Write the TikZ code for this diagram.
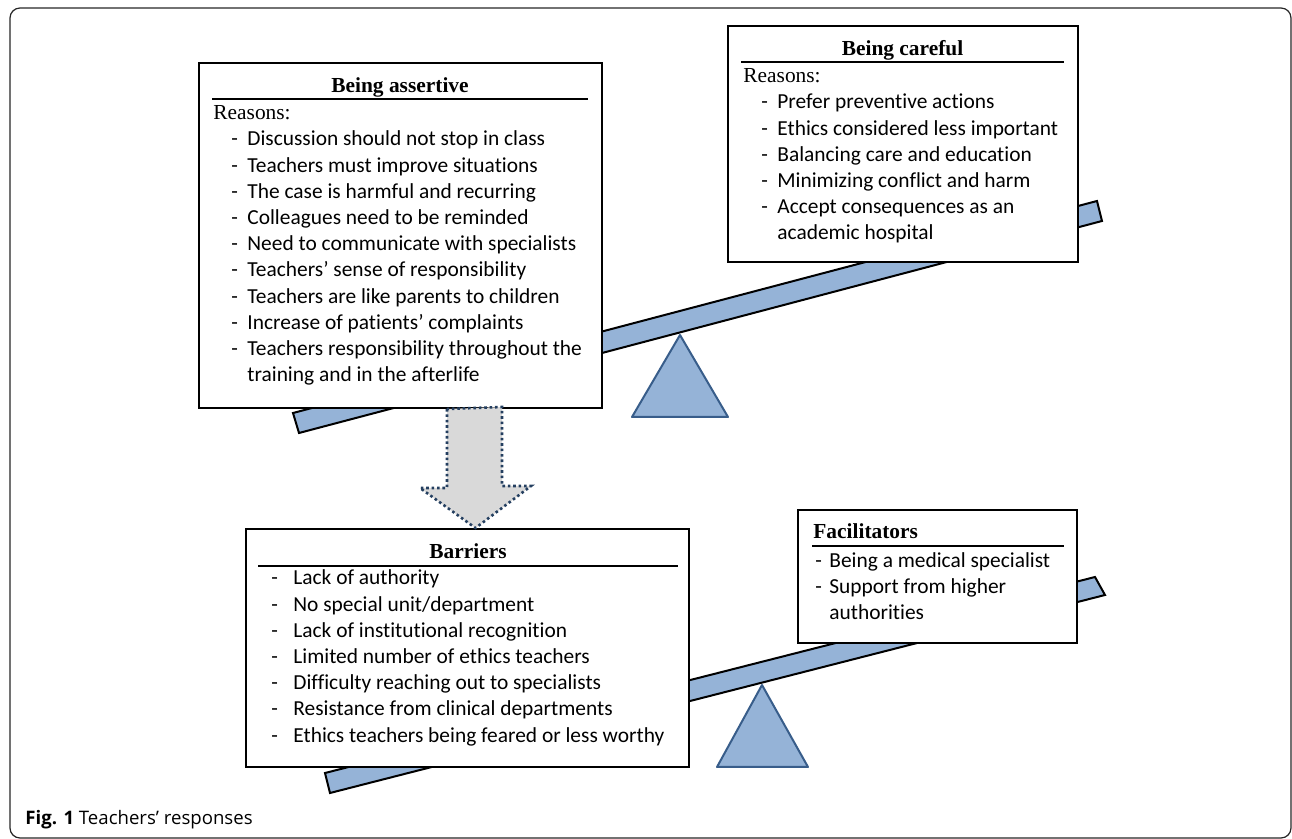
\documentclass[tikz,border=0pt]{standalone}
\usepackage{fontspec}
\setmainfont{Liberation Serif}
\newfontfamily\bodyfont[Ligatures=NoCommon]{Carlito}
\newfontfamily\capfont{Open Sans}
\usepackage{tikz}

\definecolor{beamblue}{HTML}{95B3D7}
\definecolor{edgeblue}{HTML}{385D8A}
\definecolor{arrowgray}{HTML}{D9D9D9}
\definecolor{dotblue}{HTML}{243F60}

\begin{document}
\begin{tikzpicture}[x=0.5pt, y=-0.5pt, % 坐标按像素写
		box/.style={draw, line width=1pt, fill=white, inner sep=0pt},
		title/.style={anchor=base, inner sep=0pt,
			font=\fontsize{10.7}{13.1}\selectfont\bfseries},
		reason/.style={anchor=base west, inner sep=0pt,
			font=\fontsize{10.7}{13.1}\selectfont},
		item/.style={anchor=base west, inner sep=0pt,
			font=\bodyfont\fontsize{10.7}{13.1}\selectfont},
		beam/.style={draw, line width=1pt, fill=beamblue},
		fulcrum/.style={draw=edgeblue, line width=1pt, fill=beamblue,
			line join=round}]
		\newcommand\lh{26.2}
		\useasboundingbox (0, 0) rectangle (1292, 839);
		% 外框
		\draw[rounded corners=5pt, draw=black!85, line width=0.6pt]
			(10, 8) rectangle (1291, 838);
		% 上面的跷跷板
		\draw[beam] (293, 413) -- (1097, 201) -- (1102, 221) -- (299, 433) -- cycle;
		\node[box, minimum width=201.5pt, minimum height=172.5pt]
			(assertive) at (400.5, 235.5) {};
		\node[box, minimum width=175pt, minimum height=118pt]
			(careful) at (903, 144) {};
		\draw[fulcrum] (680, 335) -- (728, 417) -- (632, 417) -- cycle;
		% Being assertive
		\node[title] (t1) at (400, 93) {Being assertive};
		\draw[line width=0.8pt] (212, 99) -- (588, 99);
		\node[reason] (r1) at (213, 120) {Reasons:};
		\foreach \t [count=\i] in {Discussion should not stop in class,
				Teachers must improve situations,
				The case is harmful and recurring,
				Colleagues need to be reminded,
				Need to communicate with specialists,
				Teachers’ sense of responsibility,
				Teachers are like parents to children,
				Increase of patients’ complaints,
				Teachers responsibility throughout the} {
			\node[item] (ad\i) at (231, {146+\lh*(\i-1)}) {-};
			\node[item] (a\i) at (247, {146+\lh*(\i-1)}) {\t};
		}
		\node[item] (a10) at (247, {146+\lh*9}) {training and in the afterlife};
		% Being careful
		\node[title] (t2) at (902.5, 56) {Being careful};
		\draw[line width=0.8pt] (741, 62) -- (1064, 62);
		\node[reason] (r2) at (743, 83) {Reasons:};
		\foreach \t [count=\i] in {Prefer preventive actions,
				Ethics considered less important,
				Balancing care and education,
				Minimizing conflict and harm,
				Accept consequences as an} {
			\node[item] (cd\i) at (761, {109+\lh*(\i-1)}) {-};
			\node[item] (c\i) at (777, {109+\lh*(\i-1)}) {\t};
		}
		\node[item] (c6) at (777, {109+\lh*5}) {academic hospital};
		% 下面的跷跷板
		\draw[beam] (325, 773) -- (1095, 577) -- (1105, 595) -- (330, 793) -- cycle;
		\node[box, minimum width=221.5pt, minimum height=119pt]
			(barriers) at (467.5, 648) {};
		\node[box, minimum width=139.5pt, minimum height=66.5pt]
			(facil) at (937.5, 576.5) {};
		\draw[fulcrum] (762, 685) -- (808, 767) -- (717, 767) -- cycle;
		% Barriers
		\node[title] (t3) at (468, 559) {Barriers};
		\draw[line width=0.6pt] (258, 566) -- (678, 566);
		\foreach \t [count=\i] in {Lack of authority,
				No special unit/department,
				Lack of institutional recognition,
				Limited number of ethics teachers,
				Difficulty reaching out to specialists,
				Resistance from clinical departments,
				Ethics teachers being feared or less worthy} {
			\node[item] (bd\i) at (271, {585+\lh*(\i-1)}) {-};
			\node[item] (b\i) at (293, {585+\lh*(\i-1)}) {\t};
		}
		% Facilitators
		\node[title, anchor=base west] (t4) at (813, 539) {Facilitators};
		\draw[line width=0.6pt] (812, 546) -- (1064, 546);
		\node[item] (fd1) at (815, 568) {-};
		\node[item] (f1) at (829, 568) {Being a medical specialist};
		\node[item] (fd2) at (815, 594) {-};
		\node[item] (f2) at (829, 594) {Support from higher};
		\node[item] (f3) at (829, 620) {authorities};
		% 中间的粗箭头
		\coordinate (atop) at (assertive.south -| 474.5, 0);
		\coordinate (atip) at (barriers.north -| 475.5, 0);
		\draw[fill=arrowgray, draw=dotblue, line width=1.3pt,
				dash pattern=on 1.3pt off 1.4pt]
			(atop) ++(-27.5, 0) -- ++(0, 79) -- ++(-27, 0) -- (atip)
			-- ++(55.5, -42) -- ++(-29, 0) -- ++(0, -79) -- cycle;
		% 图题
		\node[anchor=base west, inner sep=0pt,
			font=\capfont\fontsize{9.3}{11}\selectfont]
			(cap) at (25, 825) {\textbf{Fig. 1} Teachers’ responses};
	\end{tikzpicture}
\end{document}
